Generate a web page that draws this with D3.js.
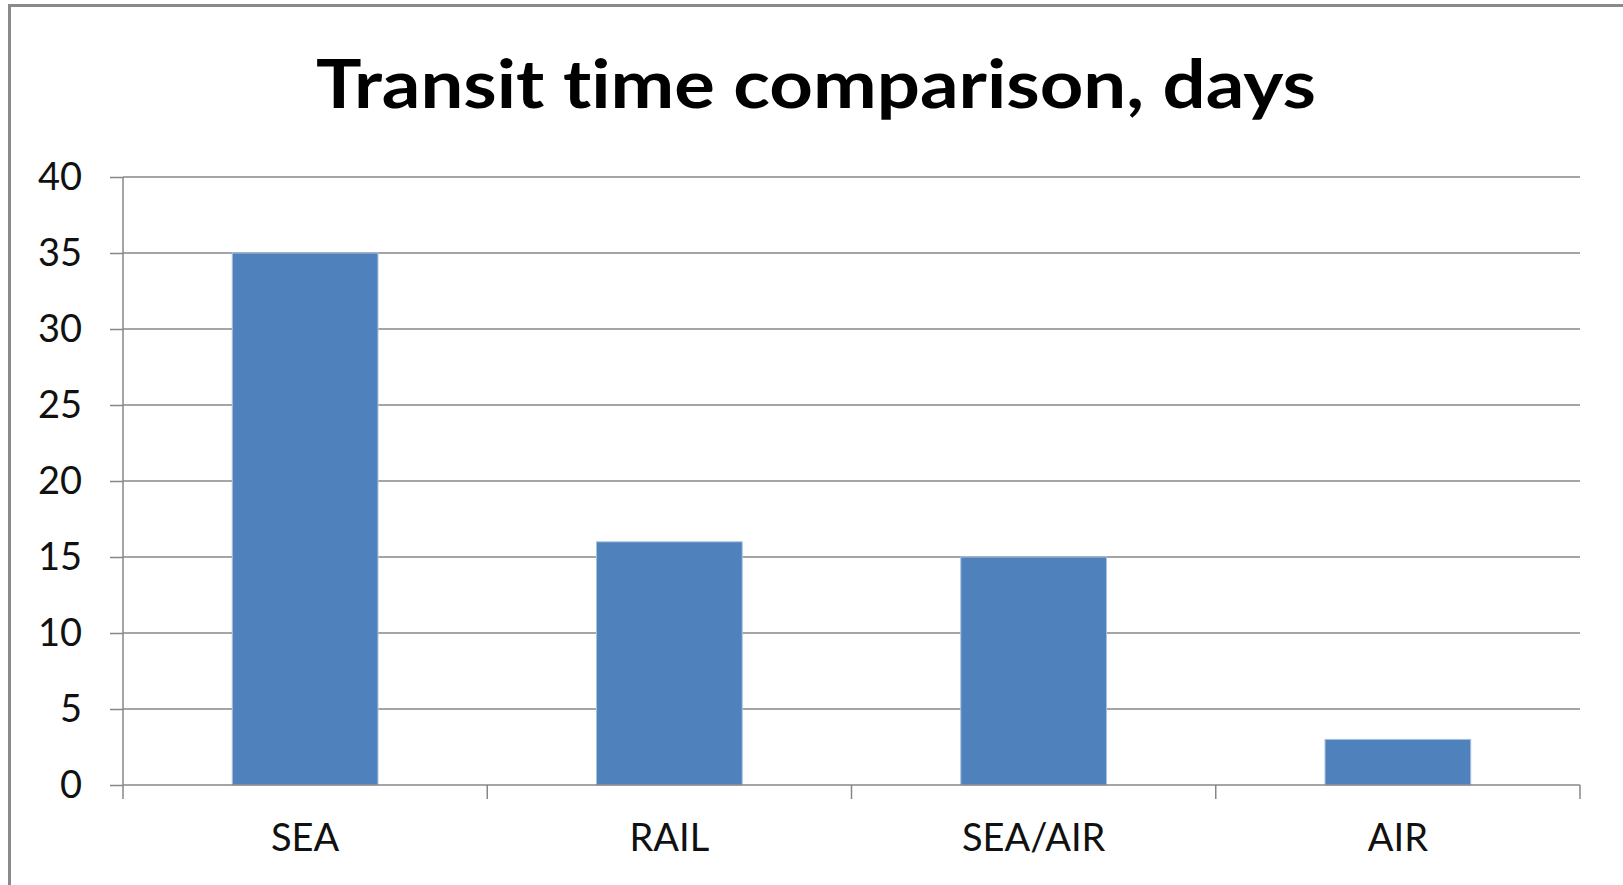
<!DOCTYPE html>
<html lang="en">
<head>
    <meta charset="UTF-8">
    <title>Transit time comparison, days</title>
    <style>
        body { margin: 0; background: #fff; }
        svg { display: block; font-family: Lato, "Open Sans", sans-serif; font-variant-ligatures: none; }
    </style>
</head>
<body>
    <script src="https://d3js.org/d3.v7.min.js"></script>
    <script>
        // data
        const categories = ['SEA', 'RAIL', 'SEA/AIR', 'AIR'];
        const transitDays = [35, 16, 15, 3];
        const yTicks = [0, 5, 10, 15, 20, 25, 30, 35, 40];
        const chartTitle = 'Transit time comparison, days';

        const width = 1623,
            height = 885;

        const plot = { left: 123, right: 1580, top: 177, bottom: 785 };

        const svg = d3.select('body').append('svg')
            .attr('width', width)
            .attr('height', height);

        // chart frame (only top and left edges visible)
        svg.append('path')
            .attr('d', `M9.5,${height} V5.5 H${width}`)
            .attr('fill', 'none')
            .attr('stroke', '#8a8a8a')
            .attr('stroke-width', 3);

        svg.append('text')
            .attr('x', 816)
            .attr('y', 108)
            .attr('text-anchor', 'middle')
            .attr('font-weight', 'bold')
            .attr('font-size', 66)
            .attr('textLength', 1000)
            .attr('lengthAdjust', 'spacingAndGlyphs')
            .attr('fill', '#000')
            .text(chartTitle);

        const x = d3.scaleBand()
            .domain(categories)
            .range([plot.left, plot.right])
            .paddingInner(0.6)
            .paddingOuter(0.3);

        const xEdges = d3.scaleBand()
            .domain(categories)
            .range([plot.left, plot.right]);

        const y = d3.scaleLinear()
            .domain([0, 40])
            .range([plot.bottom, plot.top]);

        // gridlines
        svg.append('g')
            .selectAll('line')
            .data(yTicks.slice(1))
            .join('line')
            .attr('x1', plot.left)
            .attr('x2', plot.right)
            .attr('y1', d => y(d))
            .attr('y2', d => y(d))
            .attr('stroke', '#878787')
            .attr('stroke-width', 1.5);

        // bars
        svg.append('g')
            .selectAll('rect')
            .data(transitDays)
            .join('rect')
            .attr('x', (d, i) => x(categories[i]))
            .attr('y', d => y(d))
            .attr('width', x.bandwidth())
            .attr('height', d => plot.bottom - y(d))
            .attr('fill', '#4f81bd')
            .attr('stroke', '#a9c1df')
            .attr('stroke-width', 1);

        // y axis
        const yAxis = svg.append('g')
            .attr('transform', `translate(${plot.left},0)`)
            .call(d3.axisLeft(y).tickValues(yTicks).tickSize(13).tickPadding(28));
        yAxis.select('.domain').remove();
        yAxis.append('line')
            .attr('x1', 0).attr('x2', 0)
            .attr('y1', plot.top).attr('y2', plot.bottom + 14)
            .attr('stroke', '#878787')
            .attr('stroke-width', 1.5);
        yAxis.selectAll('.tick line').attr('stroke', '#878787').attr('stroke-width', 1.5);
        yAxis.selectAll('.tick text')
            .attr('font-family', 'Lato, sans-serif')
            .attr('font-size', 38)
            .attr('fill', '#111');

        // x axis
        const xAxis = svg.append('g')
            .attr('transform', `translate(0,${plot.bottom})`);
        xAxis.append('line')
            .attr('x1', plot.left).attr('x2', plot.right)
            .attr('stroke', '#878787')
            .attr('stroke-width', 1.5);
        xAxis.selectAll('line.edge')
            .data(categories)
            .join('line')
            .attr('class', 'edge')
            .attr('x1', d => xEdges(d) + xEdges.bandwidth())
            .attr('x2', d => xEdges(d) + xEdges.bandwidth())
            .attr('y1', 0)
            .attr('y2', 14)
            .attr('stroke', '#878787')
            .attr('stroke-width', 1.5);
        xAxis.selectAll('text')
            .data(categories)
            .join('text')
            .attr('x', d => xEdges(d) + xEdges.bandwidth() / 2)
            .attr('y', 66)
            .attr('text-anchor', 'middle')
            .attr('font-size', 38)
            .attr('fill', '#111')
            .text(d => d);
    </script>
</body>
</html>
